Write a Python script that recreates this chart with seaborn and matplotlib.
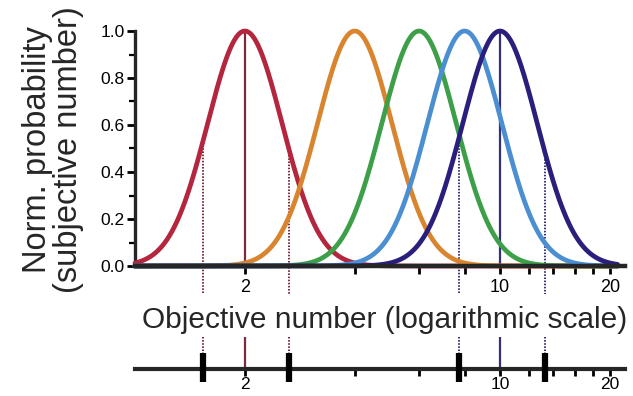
import numpy as np
import pandas as pd
import matplotlib
matplotlib.use("Agg")
import matplotlib.pyplot as plt
import seaborn as sns

# Tuning curves: preferred numerosities and a common width on a log scale
centers = [2, 4, 6, 8, 10]
colors = ["#b3263d", "#d98530", "#3d9f48", "#4b8fd2", "#2a1f7c"]
sigma_ln = 0.235

# Discrimination boundaries around the two highlighted numbers
red_bounds = [1.54, 2.64]
navy_bounds = [7.7, 13.3]
red_line = "#7c2b3e"
navy_line = "#34307c"

tick_vals = [2, 4, 6, 8, 10, 12, 14, 16, 18, 20]
tick_labels = ["2", "", "", "", "10", "", "", "", "", "20"]
y_ticks = [0.0, 0.2, 0.4, 0.6, 0.8, 1.0]


def tuning(x, c):
    return np.exp(-0.5 * ((np.log(x) - np.log(c)) / sigma_ln) ** 2)


xs = np.geomspace(1.0, 21.0, 600)
df = pd.concat(
    [pd.DataFrame({"x": xs, "p": tuning(xs, c), "center": str(c)}) for c in centers],
    ignore_index=True,
)

sns.set_theme(style="ticks")
plt.rcParams["font.family"] = ["Liberation Sans", "DejaVu Sans"]

W, H = 633, 396
fig = plt.figure(figsize=(W / 100, H / 100), dpi=100)


def px_axes(left, right, top, bottom):
    return fig.add_axes([left / W, 1 - bottom / H, (right - left) / W, (bottom - top) / H])


ax = px_axes(135, 625, 31, 266)
sns.lineplot(data=df, x="x", y="p", hue="center", palette=colors, linewidth=3.4,
             legend=False, ax=ax, clip_on=False, zorder=3)
ax.set_xscale("log")
ax.set_xlim(1.0, 22.0)
ax.set_ylim(0, 1.0)

# Solid lines at the two highlighted numbers
ax.vlines([2], 0, 1.0, color=red_line, lw=1.6, zorder=2)
ax.vlines([10], 0, 1.0, color=navy_line, lw=1.6, zorder=2)

# Dotted boundaries from the curve down past the tick labels
for xb in red_bounds:
    ax.plot([xb, xb], [tuning(xb, 2), -0.12], ls=(0, (0.8, 0.8)), color=red_line,
            lw=1.4, clip_on=False, zorder=2)
for xb in navy_bounds:
    ax.plot([xb, xb], [tuning(xb, 10), -0.12], ls=(0, (0.8, 0.8)), color=navy_line,
            lw=1.4, clip_on=False, zorder=2)

for s in ["top", "right"]:
    ax.spines[s].set_visible(False)
ax.spines["bottom"].set_linewidth(3.2)
ax.spines["left"].set_linewidth(2.4)
ax.spines["bottom"].set_zorder(4)

ax.set_xticks(tick_vals)
ax.set_xticklabels(tick_labels)
ax.xaxis.set_minor_locator(matplotlib.ticker.NullLocator())
ax.set_yticks(y_ticks)
ax.set_yticklabels([f"{v:.1f}" for v in y_ticks])
ax.yaxis.set_minor_locator(matplotlib.ticker.MultipleLocator(0.1))
ax.tick_params(axis="x", which="major", length=6, width=2, labelsize=13, pad=3, colors="black")
ax.tick_params(axis="y", which="major", length=6, width=2, labelsize=12.5, pad=1.5, colors="black")
ax.tick_params(axis="y", which="minor", length=4, width=1.6, colors="black")
ax.set_xlabel("")
ax.set_ylabel("")

# Lower strip: number line with the boundary markers
ax2 = px_axes(135, 625, 337, 369)
ax2.set_xscale("log")
ax2.set_xlim(1.0, 22.0)
ax2.set_ylim(0, 1)
ax2.patch.set_alpha(0)
for s in ["top", "right", "left"]:
    ax2.spines[s].set_visible(False)
ax2.spines["bottom"].set_linewidth(3.0)
ax2.set_yticks([])
ax2.set_xticks(tick_vals)
ax2.set_xticklabels(tick_labels)
ax2.xaxis.set_minor_locator(matplotlib.ticker.NullLocator())
ax2.tick_params(axis="x", which="major", length=5, width=2, labelsize=12.5, pad=0.5, colors="black")

ax2.vlines([2], 0, 1.0, color=red_line, lw=1.6)
ax2.vlines([10], 0, 1.0, color=navy_line, lw=1.6)
for xb in red_bounds:
    ax2.plot([xb, xb], [1.0, 0.5], ls=(0, (0.8, 0.8)), color=red_line, lw=1.4)
for xb in navy_bounds:
    ax2.plot([xb, xb], [1.0, 0.5], ls=(0, (0.8, 0.8)), color=navy_line, lw=1.4)
for xb in red_bounds + navy_bounds:
    ax2.plot([xb, xb], [0.5, -0.42], color="black", lw=4.5, solid_capstyle="butt",
             clip_on=False, zorder=5)

fig.text(385 / W, 1 - 320 / H, "Objective number (logarithmic scale)",
         ha="center", va="center", fontsize=21.5)
fig.text(53 / W, 1 - 150 / H, "Norm. probability\n(subjective number)",
         ha="center", va="center", rotation=90, fontsize=23.5, linespacing=1.0)

fig.savefig("out.png", dpi=100)
